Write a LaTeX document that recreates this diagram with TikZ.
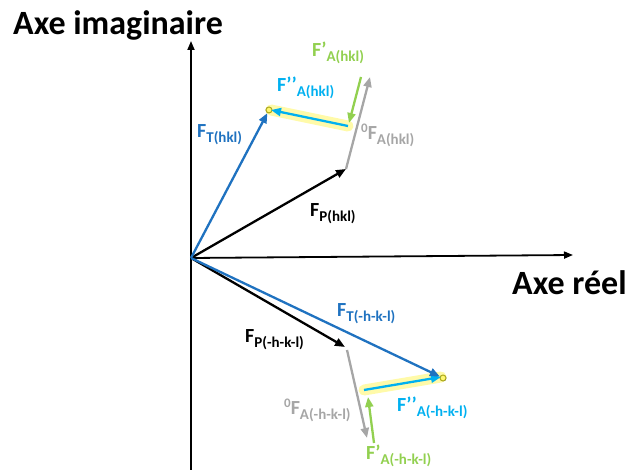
\documentclass[tikz,border=0pt]{standalone}
\usepackage{fontspec}
\setmainfont{Carlito}
\usetikzlibrary{arrows.meta}

\definecolor{tblue}{HTML}{1F72C0}
\definecolor{acyan}{HTML}{00B0F0}
\definecolor{agreen}{HTML}{92D050}
\definecolor{agray}{HTML}{A6A6A6}
\definecolor{dotrim}{HTML}{6B6B00}

\newcommand{\lsub}[1]{\raisebox{-5pt}{\fontsize{15}{15}\selectfont #1}}
\newcommand{\lsup}[1]{\raisebox{7pt}{\fontsize{13}{13}\selectfont #1}}

\begin{document}
\begin{tikzpicture}[x=1pt,y=-1pt,
    axis/.style={line width=1.8pt, -{Triangle[length=9pt,width=7pt]}},
    vec/.style={line width=2.3pt, -{Triangle[length=10pt,width=8pt]}},
    glow/.style={line width=11pt, yellow!75, opacity=0.45, line cap=round},
    lbl/.style={font=\bfseries\fontsize{20}{24}\selectfont, inner sep=0pt, anchor=base west},
    axlbl/.style={font=\bfseries\fontsize{34}{40}\selectfont, inner sep=0pt, anchor=base west},
    tip/.style={circle, draw=dotrim, fill=yellow!40, line width=1pt, inner sep=0pt, minimum size=6pt}]
    \useasboundingbox (0,0) rectangle (627,470);

    % Points
    \coordinate (O) at (191,258);
    \coordinate (ytop) at (191,41);
    \coordinate (ybot) at (191,470);
    \coordinate (xend) at (573,255);
    % upper half (hkl)
    \coordinate (Ph) at (346,169);
    \coordinate (Ah) at (370,77);
    \coordinate (Gh0) at (361,77);
    \coordinate (Gh1) at (349,123);
    \coordinate (Ch0) at (348,126);
    \coordinate (Ch1) at (271,110);
    % lower half (-h-k-l)
    \coordinate (Pm) at (345,347);
    \coordinate (Am0) at (347,350);
    \coordinate (Am) at (367,438);
    \coordinate (Gm0) at (374,443);
    \coordinate (Gm1) at (368,397);
    \coordinate (Cm0) at (364,390);
    \coordinate (Cm1) at (441,377);
    \node[tip] (Th) at (269,110) {};
    \node[tip] (Tm) at (443,378) {};

    % 1. Axes
    \draw[axis] (ybot) -- (ytop);
    \draw[axis] (O) -- (xend);
    \node[axlbl] (imag) at (13,35) {Axe imaginaire};
    \node[axlbl] (reel) at (512,295) {Axe réel};

    % 2. Highlight under F''
    \draw[glow] (Ch0) -- (Ch1);
    \draw[glow] (Cm0) -- (Cm1);

    % 3. Vectors (hkl)
    \draw[vec, black] (O) -- (Ph);
    \draw[vec, agray] (Ph) -- (Ah);
    \draw[vec, agreen] (Gh0) -- (Gh1);
    \draw[vec, acyan] (Ch0) -- (Ch1);
    \draw[vec, tblue] (O) -- (Th);

    % 4. Vectors (-h-k-l)
    \draw[vec, black] (O) -- (Pm);
    \draw[vec, agray] (Am0) -- (Am);
    \draw[vec, agreen] (Gm0) -- (Gm1);
    \draw[vec, acyan] (Cm0) -- (Cm1);
    \draw[vec, tblue] (O) -- (Tm);

    % 5. Labels
    \node[lbl, tblue] (lTh) at (197,138) {F\lsub{T(hkl)}};
    \node[lbl, acyan] (lCh) at (277,92) {F’’\lsub{A(hkl)}};
    \node[lbl, agreen] (lGh) at (312,57) {F’\lsub{A(hkl)}};
    \node[lbl, agray] (lAh) at (361,140) {\lsup{0}F\lsub{A(hkl)}};
    \node[lbl, black] (lPh) at (310,217) {F\lsub{P(hkl)}};
    \node[lbl, tblue] (lTm) at (337,317) {F\lsub{T(-h-k-l)}};
    \node[lbl, black] (lPm) at (245,343) {F\lsub{P(-h-k-l)}};
    \node[lbl, agray] (lAm) at (284,415) {\lsup{0}F\lsub{A(-h-k-l)}};
    \node[lbl, acyan] (lCm) at (397,412) {F’’\lsub{A(-h-k-l)}};
    \node[lbl, agreen] (lGm) at (366,460) {F’\lsub{A(-h-k-l)}};
\end{tikzpicture}
\end{document}
